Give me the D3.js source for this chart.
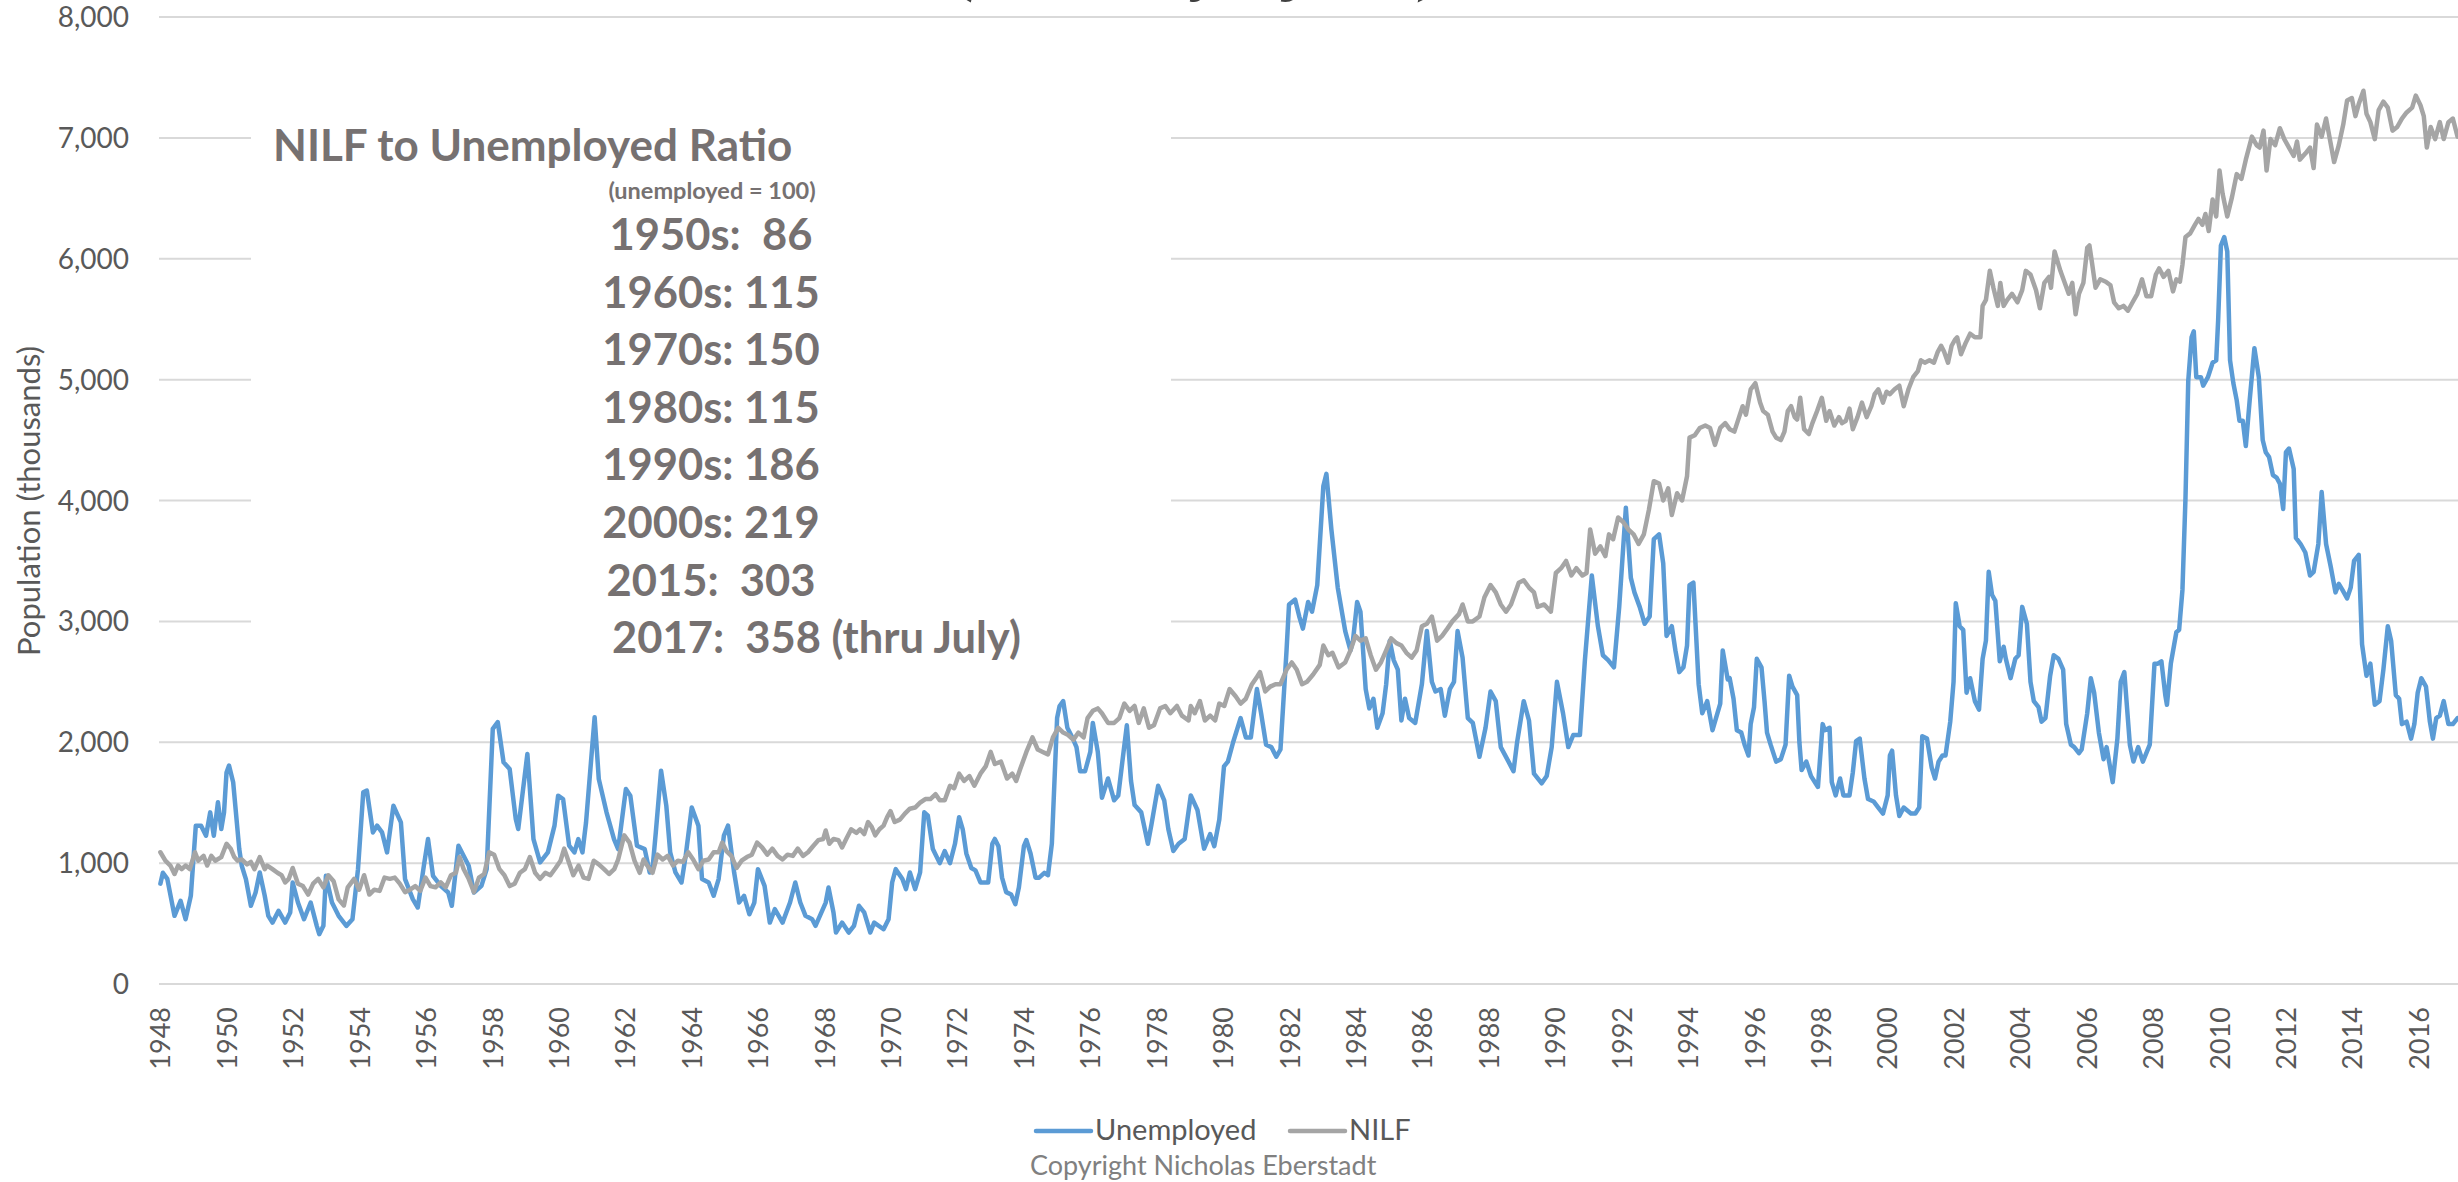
<!DOCTYPE html>
<html lang="en">
<head>
<meta charset="UTF-8">
<title>Unemployed vs NILF</title>
<script src="https://d3js.org/d3.v7.min.js"></script>
<style>
    body { margin: 0; padding: 0; background: #fff; overflow: hidden; }
    svg { display: block; }
    text { font-family: Lato, "Open Sans", sans-serif; }
</style>
</head>
<body>
<svg id="chart" width="2458" height="1182"></svg>
<script>
// months counted from Jan 1948, values in thousands
var unemployed = [
[0,830],[0.9,920],[2.5,870],[5.1,564],[7.3,688],[9.1,536],[11,730],[12.8,1310],[14.7,1310],[16.5,1227],[18,1420],[19.3,1227],[20.8,1503],[22,1282],[23,1420],[23.9,1750],[24.8,1807],[26.3,1669],[28.5,1116],[29.4,978],[30.9,868],[32.7,647],[34.4,757],[35.9,923],[37.7,730],[39,564],[40.5,508],[42.7,605],[45.1,508],[46.9,592],[47.8,840],[49.7,674],[51.9,536],[54.3,674],[56.5,481],[57.4,412],[58.9,481],[59.8,895],[62,674],[64.4,564],[67.2,481],[69.4,536],[71.4,950],[73.3,1586],[74.6,1600],[76.8,1254],[78.3,1310],[80.1,1254],[81.9,1089],[84.2,1475],[86.9,1337],[88.4,868],[91.2,702],[93,633],[95.2,978],[96.7,1199],[98.5,895],[101.3,812],[104,757],[105.3,647],[107.7,1144],[111.4,978],[113.3,757],[116,812],[117.9,950],[120.1,2110],[121.9,2166],[124,1834],[126.2,1779],[128.4,1365],[129.3,1282],[132.6,1903],[134.8,1199],[137.2,1006],[140,1089],[142.4,1310],[143.7,1558],[145.5,1530],[147.7,1144],[149.6,1089],[151,1199],[152.5,1089],[153.8,1337],[156.9,2207],[158.4,1696],[161.2,1420],[163.9,1199],[165.4,1116],[168.2,1613],[169.8,1558],[172.2,1144],[175,1116],[176.8,923],[177.8,950],[179,1254],[180.9,1765],[182.8,1475],[184.2,1089],[186.1,923],[188.3,840],[189.8,1061],[192,1461],[194.4,1310],[195.7,868],[198.1,840],[199.9,730],[201.7,868],[203.6,1227],[205.1,1310],[207.3,923],[209.1,674],[210.9,730],[212.8,577],[214.6,674],[215.9,950],[218.3,812],[220.2,508],[222,619],[224.8,508],[227.5,674],[229.4,840],[231.2,674],[233.1,564],[235.5,536],[236.7,481],[240.4,674],[241.4,798],[243.2,592],[244.1,426],[246.3,508],[248.7,426],[250.6,481],[252.4,647],[254.3,592],[256.5,426],[257.9,508],[261.3,453],[263.1,536],[264.4,840],[265.7,950],[268.1,868],[269.4,785],[270.8,923],[272.7,785],[274.5,923],[276,1420],[277.3,1392],[279.1,1116],
[281.6,1000],[283.4,1100],[285.3,1000],[287.1,1160],[288.6,1380],[289.9,1280],[291.2,1080],[293,960],[294.5,940],[296.3,840],[299.1,840],[300.6,1160],[301.5,1200],[302.8,1140],[304.1,880],[305.6,760],[307.4,740],[308.9,660],[310.2,800],[312,1140],[312.9,1190],[314.4,1080],[316.2,880],[317.5,880],[319.4,920],[320.7,900],[322.1,1160],[324,2200],[324.9,2300],[326.2,2340],[327.7,2120],[329.5,2040],[331,1960],[332.3,1760],[334.1,1760],[336,1920],[336.9,2160],[338.7,1920],[340.2,1540],[342.4,1700],[344.6,1520],[346.1,1560],[348,1920],[349.2,2140],[350.7,1680],[352,1480],[354.4,1420],[356.8,1160],[358.1,1320],[360.5,1640],[362.7,1520],[364.2,1280],[366,1100],[367.9,1160],[370.1,1200],[372.3,1560],[374.7,1440],[377.1,1120],[379.3,1240],[380.8,1140],[382.6,1360],[384.3,1800],[385.7,1840],[387.6,2000],[390.3,2200],[392.2,2040],[394,2040],[396.2,2440],[397.7,2240],[399.5,1980],[401.4,1960],[403.2,1880],[404.7,1940],[406.9,2760],[407.8,3140],[410,3180],[411.5,3040],[412.8,2940],[414.7,3160],[416.1,3080],[418,3300],[420.2,4120],[421.3,4220],[423.1,3760],[425.4,3280],[428.1,2920],[430,2760],[430.9,2840],[432.4,3160],[433.6,3080],[435.5,2440],[436.8,2280],[438.3,2360],[439.7,2120],[441.6,2240],[442.9,2480],[444.2,2840],[445.6,2680],[447.1,2600],[448.4,2180],[449.7,2360],[451.2,2200],[453.4,2160],[455.8,2480],[457.6,2920],[459.4,2500],[460.7,2420],[462.6,2440],[464.1,2220],[465.9,2440],[467.4,2500],[468.7,2920],[470.5,2700],[472.4,2200],[474.2,2160],[476.6,1880],[478.8,2120],[480.6,2420],[482.5,2340],[484.3,1960],[487.1,1840],[488.9,1760],[490.2,2000],[492.6,2340],[494.5,2180],[496.3,1740],[499.1,1660],[500.9,1720],[502.7,1960],[504.6,2500],[506.8,2240],[508.7,1960],[510.5,2060],[512.9,2060],[514.7,2680],[517.2,3380],[519.4,2960],[521.2,2720],[523.1,2680],[525.2,2620],[527.1,3120],[529.5,3940],[531.3,3360],[532.6,3240],[534.5,3120],[536.3,2980],[538.1,3040],[539.6,3680],[541.5,3720],[543,3480],[544.2,2880],[546.1,2960],[547.4,2760],[548.8,2580],[550.3,2620],[551.6,2800],[552.5,3300],[553.9,3320],[555.8,2480],[557.1,2240],[558.9,2340],[560.8,2100],[563.6,2320],[564.5,2760],[566.3,2520],
[567,2530],[568.4,2360],[569.6,2100],[571.2,2080],[572.4,1980],[573.8,1890],[574.6,2150],[575.8,2290],[576.8,2690],[578.5,2620],[579.6,2340],[580.5,2080],[581.8,1980],[583.8,1840],[585.5,1860],[587.2,1980],[588.5,2550],[589.7,2460],[591.4,2390],[592.2,2000],[593,1770],[594.7,1840],[596.4,1720],[598.9,1630],[600.6,2150],[601.4,2100],[603.1,2120],[603.9,1670],[605.3,1560],[606.9,1700],[608.1,1560],[610.3,1560],[611.5,1750],[612.7,2010],[614,2030],[615.7,1700],[617,1530],[619,1510],[620.7,1460],[622.4,1410],[624.1,1560],[624.9,1890],[625.7,1930],[627.1,1560],[628.3,1390],[629.9,1460],[632.5,1410],[634.1,1410],[635.5,1460],[636.6,2050],[638.3,2030],[640,1790],[641.2,1700],[642.5,1840],[643.9,1890],[645,1890],[646.7,2170],[647.9,2500],[648.7,3150],[650.1,2960],[651.4,2930],[652.6,2410],[653.9,2530],[655.6,2340],[657.1,2270],[658.4,2690],[659.6,2840],[660.6,3410],[661.8,3220],[663,3170],[664.6,2670],[666,2790],[666.8,2690],[668.5,2530],[670.2,2690],[671.4,2720],[672.7,3120],[674.4,2980],[675.7,2500],[676.9,2340],[678.6,2290],[679.7,2170],[681.1,2200],[682.8,2550],[684.1,2720],[685.8,2690],[687.5,2600],[688.6,2150],[690.3,1980],[691.5,1960],[693.2,1910],[694.2,1940],[696.2,2240],[697.5,2530],[698.7,2410],[700.4,2080],[702.1,1860],[703.2,1960],[705.4,1670],[707.1,2030],[708.3,2500],[709.6,2580],[711.6,1980],[712.9,1840],[714.6,1960],[716.3,1840],[718.8,1980],[720.5,2650],[721.7,2650],[723,2670],[724.4,2390],[725,2310],[726.4,2650],[728.4,2910],[729.4,2930],[730.6,3260],[731.7,4020],[732.7,4990],[733.9,5350],[734.7,5400],[735.6,5020],[737.3,5020],[738.1,4950],[739.8,5020],[741.5,5140],[742.8,5160],[743.5,5490],[744.5,6110],[745.7,6180],[746.8,6060],[747.8,5160],[749,4970],[750.2,4830],[751.2,4660],[752.4,4660],[753.5,4450],[754.9,4830],[756.6,5260],[758.2,5020],[759.6,4500],[760.7,4400],[761.9,4360],[763.3,4210],[764.6,4190],[765.8,4140],[767,3930],[768,4400],[769.1,4430],[770.8,4260],[771.6,3690],[773.3,3640],[775,3570],[776.7,3380],[778,3410],[779.7,3640],[780.9,4070],[782.5,3640],[784.2,3450],[785.9,3240],[787.1,3310],[788.4,3260],[790.1,3190],[791.4,3280],[792.6,3500],[794.3,3550],[795.5,2810],[797.1,2550],[798.5,2650],[800.1,2310],[801.8,2340],[803.2,2600],[804.8,2960],[806,2840],[807.7,2390],[808.9,2360],[809.9,2150],[811.6,2170],[813.2,2030],[814.4,2150],[815.6,2410],[816.9,2530],[818.6,2460],[820,2170],[821.1,2030],[822.3,2200],[823.6,2220],[825,2340],[826.7,2150],[828.3,2150],[830,2200]
];

var nilf = [
[0,1090],[1.8,1020],[3.6,980],[5.1,910],[6.4,980],[7.7,950],[9.1,980],[10.6,950],[12.5,1090],[13.7,1020],[15.6,1060],[16.9,980],[18.4,1060],[19.8,1020],[22,1050],[23.9,1160],[25.4,1120],[26.7,1050],[27.9,1020],[29.4,1030],[31.3,990],[32.7,1010],[34,950],[35.9,1050],[37.7,950],[38.6,980],[40.5,950],[42.3,920],[43.8,900],[45.1,840],[46.4,870],[47.8,960],[49.7,830],[51.5,810],[53.4,740],[55.2,830],[57,870],[58.9,800],[60.7,900],[62.6,850],[64.4,700],[66.3,650],[67.7,800],[70,870],[71.8,780],[73.6,900],[75.5,740],[77.3,780],[79.2,770],[81,880],[82.9,870],[84.7,880],[86.5,830],[88.4,760],[90.2,780],[92.1,810],[93.9,770],[95.8,880],[97.6,810],[99.4,800],[101.3,840],[103.1,800],[105,900],[106.8,920],[108.1,1050],[109.6,950],[111.4,870],[113.3,760],[115.1,880],[117,910],[118.8,1090],[120.6,1070],[122.5,950],[124.3,900],[126.2,810],[128,830],[129.9,920],[131.7,950],[133.5,1050],[135.4,920],[137.2,870],[139.1,920],[140.9,900],[142.8,960],[144.6,1020],[145.9,1120],[147.4,1020],[149.2,900],[151.1,980],[152.9,880],[154.7,870],[156.6,1020],[158.4,990],[160.3,950],[162.1,910],[164,950],[165.4,1030],[167.6,1230],[169.5,1170],[171.3,1020],[173.2,920],[174.6,1030],[175.9,980],[177.8,920],[179.6,1070],[181.5,1030],[183.3,1060],[185.2,980],[187,1020],[188.8,1010],[190.7,1090],[192.5,1030],[194.4,950],[196.2,1020],[198.1,1030],[199.9,1090],[201.7,1090],[203,1170],[204.5,1100],[206.3,1060],[208.2,960],[210,1020],[211.9,1050],[213.7,1070],[215.6,1170],[217.4,1130],[219.3,1070],[221.1,1120],[223,1060],[224.8,1030],[226.6,1070],[228.5,1060],[230.3,1120],[232.2,1060],[234,1090],[235.8,1140],[237.7,1190],[239.5,1200],[240.4,1270],[241.7,1160],[243.2,1200],[245,1190],[246.3,1130],[247.8,1200],[249.6,1280],[251.5,1250],[252.8,1280],[254.3,1240],[255.7,1340],[257,1300],[258.3,1230],[259.8,1280],[261.3,1310],[262.6,1380],[263.8,1430],[265.3,1340],[267.2,1360],[269,1410],[270.8,1450],[272.7,1460],[274.5,1500],[276.4,1530],[278.2,1530],[280.1,1570],
[281.6,1520],[283.4,1520],[285.3,1640],[286.8,1620],[288.6,1740],[290.4,1680],[292.3,1720],[294.1,1640],[296.3,1740],[298.2,1800],[300,1920],[301.5,1820],[303.7,1840],[305.9,1700],[307.8,1740],[309.2,1680],[310.7,1780],[312.9,1920],[315.1,2040],[317,1940],[318.8,1920],[320.7,1900],[322.5,2040],[324.4,2120],[326.2,2080],[328,2060],[329.9,2020],[331.7,2080],[333.6,2040],[335,2200],[336.9,2260],[338.7,2280],[340.2,2240],[342.4,2160],[344.6,2160],[346.5,2200],[348.3,2320],[350.2,2260],[352,2300],[353.5,2160],[355.3,2280],[357.2,2120],[359,2140],[361.2,2280],[363.1,2300],[364.9,2240],[367.3,2300],[369.1,2220],[371.5,2180],[372.3,2300],[373.7,2240],[375.6,2340],[377.4,2180],[379.3,2220],[381.1,2180],[382.6,2320],[384.4,2300],[386.3,2440],[388.5,2380],[390.3,2320],[392.2,2360],[394.4,2480],[396.2,2540],[397.3,2580],[399.2,2420],[401,2460],[402.9,2480],[404.7,2480],[406.9,2600],[408.8,2660],[410.6,2600],[412.5,2480],[414.3,2500],[416.5,2560],[418.9,2640],[420.2,2800],[422,2720],[423.5,2740],[425.7,2620],[428.1,2660],[430,2760],[431.8,2880],[433.6,2840],[435.5,2860],[437.3,2720],[439.2,2600],[441,2660],[442.9,2760],[444.7,2860],[446.6,2820],[448.4,2800],[450.2,2740],[452.1,2700],[453.9,2760],[455.8,2960],[457.6,2980],[459.4,3040],[461.3,2840],[463.1,2880],[465,2940],[466.8,3000],[469.2,3060],[470.5,3140],[472.4,3000],[474.2,3000],[476.6,3040],[478.4,3200],[480.6,3300],[482.5,3240],[484.3,3140],[486.2,3080],[488,3140],[490.8,3320],[492.6,3340],[494.5,3280],[496.3,3240],[497.6,3120],[500,3140],[502.4,3080],[504.2,3400],[506.1,3440],[507.9,3500],[509.8,3380],[511.6,3440],[513.8,3380],[515.3,3400],[516.6,3760],[518.4,3560],[520.3,3620],[522.1,3540],[523.4,3720],[524.9,3680],[526.7,3860],[528.6,3820],[530.4,3760],[532.3,3720],[534.1,3640],[536,3720],[537.8,3920],[539.6,4160],[541.5,4140],[543,4000],[544.8,4100],[546.1,3880],[548,4060],[549.8,4000],[551.6,4200],[552.5,4520],[554.4,4540],[556.2,4600],[558.2,4620],[559.9,4600],[561.7,4460],[563.6,4600],[565.4,4640],
[567,4590],[568.7,4570],[570.4,4690],[571.7,4780],[572.9,4710],[574.6,4920],[576.3,4970],[578,4810],[579.1,4740],[580.8,4710],[582.5,4570],[583.8,4520],[585.5,4500],[586.8,4570],[588,4740],[589.2,4780],[590.5,4690],[591.4,4670],[592.5,4850],[593.9,4590],[595.6,4550],[596.9,4640],[598.6,4740],[600.3,4850],[601.9,4660],[603.1,4740],[604.8,4620],[606.5,4690],[607.6,4640],[609,4660],[610.3,4760],[611.5,4590],[613.2,4690],[614.8,4810],[616.5,4690],[618.2,4780],[619.4,4880],[620.7,4920],[622.4,4810],[623.7,4900],[624.9,4880],[626.6,4920],[628.3,4950],[629.9,4780],[631.6,4920],[633.3,5020],[635,5070],[636.1,5160],[637.5,5140],[639.2,5160],[640.8,5140],[642.2,5230],[643.4,5280],[644.5,5230],[645.9,5140],[647.2,5280],[648.4,5330],[649.2,5350],[650.6,5210],[652.2,5300],[653.9,5380],[655.6,5350],[657.6,5350],[658.4,5610],[659.6,5660],[661,5900],[662.3,5760],[663.9,5610],[664.8,5800],[666,5610],[667.3,5660],[669,5710],[671,5640],[672.7,5740],[674,5900],[675.7,5870],[677.7,5740],[679.1,5590],[680.7,5800],[682.4,5850],[683.1,5760],[684.4,6060],[686.5,5900],[688.1,5800],[689.5,5710],[690.8,5800],[692,5540],[693.2,5710],[694.8,5800],[696.2,6090],[697,6110],[697.9,5970],[699.2,5760],[700.9,5830],[702.9,5810],[704.6,5780],[705.9,5640],[707.6,5590],[709.3,5610],[710.9,5570],[712.6,5640],[714.3,5710],[716,5830],[717.6,5690],[719.3,5690],[721,5870],[722.2,5920],[723.8,5850],[725.5,5900],[727.2,5730],[728.4,5830],[729.7,5810],[730.6,5950],[731.7,6180],[733.4,6210],[735.1,6280],[736.4,6330],[737.8,6280],[738.9,6370],[740.1,6230],[741.5,6490],[742.8,6350],[744,6730],[745.1,6540],[746.8,6350],[748.5,6510],[750.2,6700],[751.9,6660],[753.5,6820],[755.7,7010],[757.4,6940],[758.5,6920],[759.9,7060],[761,6730],[762.4,6990],[764.1,6940],[765.8,7080],[767.4,6990],[769.1,6920],[770.8,6850],[772,6970],[773,6820],[775,6870],[776.7,6920],[778,6750],[779.2,7110],[780.9,7010],[782.5,7160],[783.7,7010],[785.4,6800],[787.1,6940],[788.7,7110],[790.1,7310],[791.8,7330],[793.1,7180],[794.3,7280],[796,7390],[797.1,7200],[798.5,7130],[800.1,6990],[801.5,7230],[803.2,7300],[804.8,7250],[806.5,7060],[808.2,7090],[809.9,7160],[811.6,7210],[813.6,7250],[814.9,7350],[816.6,7270],[817.8,7180],[818.9,6920],[820.3,7090],[821.9,6990],[823.6,7130],[825,6990],[826.7,7130],[828.3,7160],[830,7010]
];

var yearTicks = [1948,1950,1952,1954,1956,1958,1960,1962,1964,1966,1968,1970,1972,1974,1976,1978,1980,1982,1984,1986,1988,1990,1992,1994,1996,1998,2000,2002,2004,2006,2008,2010,2012,2014,2016];
var yTicks = [0,1000,2000,3000,4000,5000,6000,7000,8000];
var ratioTitle = "NILF to Unemployed Ratio";
var ratioNote = "(unemployed = 100)";
var ratioLines = ["1950s:  86", "1960s: 115", "1970s: 150", "1980s: 115", "1990s: 186", "2000s: 219", "2015:  303"];
var ratioLast = "2017:  358 (thru July)";
var seriesNames = ["Unemployed", "NILF"];
var seriesColors = ["#5B9BD5", "#A5A5A5"];

var svg = d3.select("#chart");

// 835 monthly categories (Jan 1948 - Jul 2017); plot runs past the right edge
var x = d3.scaleLinear().domain([-0.5, 834.5]).range([159, 2470]);
var y = d3.scaleLinear().domain([0, 8000]).range([984, 17]);

// cut-off subtitle at the very top
svg.append("text")
    .attr("x", 958).attr("y", -7)
    .attr("textLength", 482).attr("lengthAdjust", "spacingAndGlyphs")
    .style("font-family", "'Liberation Serif', serif")
    .style("font-style", "italic").style("font-weight", "bold")
    .style("font-size", "44px").attr("fill", "#404040")
    .text("(Seasonally adjusted)");

// gridlines
svg.append("g").selectAll("line")
    .data(yTicks).enter().append("line")
    .attr("x1", 159).attr("x2", 2470)
    .attr("y1", function(d) { return y(d); })
    .attr("y2", function(d) { return y(d); })
    .attr("stroke", "#D9D9D9").attr("stroke-width", 2);

// y axis labels
svg.append("g").selectAll("text")
    .data(yTicks).enter().append("text")
    .attr("x", 129)
    .attr("y", function(d) { return y(d); })
    .attr("dy", "0.36em")
    .attr("text-anchor", "end")
    .style("font-size", "28px").attr("fill", "#595959")
    .text(d3.format(","));

svg.append("text")
    .attr("transform", "translate(40,501) rotate(-90)")
    .attr("text-anchor", "middle")
    .style("font-size", "31px").attr("fill", "#595959")
    .text("Population (thousands)");

// x axis labels, every 24 months
svg.append("g").selectAll("text")
    .data(yearTicks).enter().append("text")
    .attr("transform", function(d) {
        return "translate(" + (x((d - 1948) * 12) + 10) + ",1007) rotate(-90)";
    })
    .attr("text-anchor", "end")
    .style("font-size", "27px").attr("fill", "#595959")
    .text(function(d) { return d; });

// text box
svg.append("rect")
    .attr("x", 251).attr("y", 100).attr("width", 920).attr("height", 590)
    .attr("fill", "#fff");

var box = svg.append("g").attr("fill", "#767171").style("font-weight", "bold");
box.append("text").attr("x", 273).attr("y", 161)
    .style("font-size", "44px").text(ratioTitle);
box.append("text").attr("x", 712).attr("y", 199)
    .attr("text-anchor", "middle")
    .style("font-size", "23.5px").text(ratioNote);
box.selectAll("text.r").data(ratioLines).enter().append("text")
    .attr("class", "r")
    .attr("x", 711)
    .attr("y", function(d, i) { return 250 + i * 57.6; })
    .attr("text-anchor", "middle")
    .style("font-size", "43.5px").style("white-space", "pre")
    .text(function(d) { return d; });
box.append("text").attr("x", 612).attr("y", 653)
    .style("font-size", "43.5px").style("white-space", "pre")
    .text(ratioLast);

// lines
var line = d3.line()
    .x(function(d) { return x(d[0]); })
    .y(function(d) { return y(d[1]); });

[unemployed, nilf].forEach(function(data, i) {
    svg.append("path")
        .datum(data)
        .attr("d", line)
        .attr("fill", "none")
        .attr("stroke", seriesColors[i])
        .attr("stroke-width", 4.5)
        .attr("stroke-linejoin", "round")
        .attr("stroke-linecap", "round");
});

// legend
var legendX = [1036, 1290];
seriesNames.forEach(function(name, i) {
    svg.append("line")
        .attr("x1", legendX[i]).attr("x2", legendX[i] + 55)
        .attr("y1", 1131).attr("y2", 1131)
        .attr("stroke", seriesColors[i]).attr("stroke-width", 4.5)
        .attr("stroke-linecap", "round");
    svg.append("text")
        .attr("x", legendX[i] + 59).attr("y", 1140)
        .style("font-size", "29px").attr("fill", "#595959")
        .text(name);
});

svg.append("text")
    .attr("x", 1030).attr("y", 1175)
    .style("font-size", "27px").attr("fill", "#808080")
    .text("Copyright Nicholas Eberstadt");
</script>
</body>
</html>
